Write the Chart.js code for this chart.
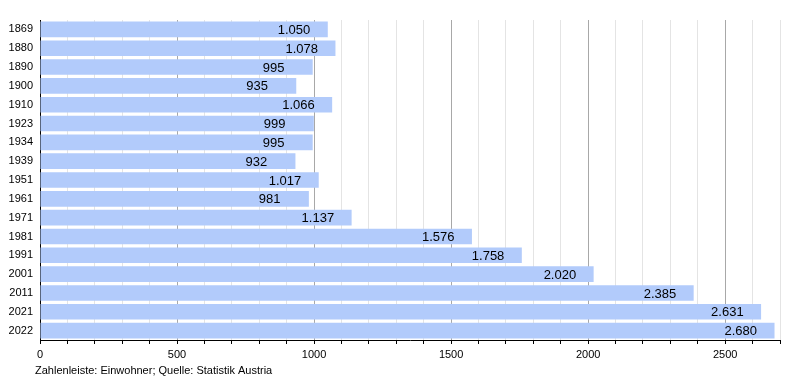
<!DOCTYPE html>
<html lang="de">
<head>
  <meta charset="UTF-8">
  <title>Einwohnerentwicklung</title>
  <script src="https://cdn.jsdelivr.net/npm/chart.js"></script>
  <style>
    html, body { margin: 0; padding: 0; background: #fff; }
    #wrap { width: 800px; height: 380px; }
  </style>
</head>
<body>
  <div id="wrap"><canvas id="grafik" width="800" height="380"></canvas></div>
  <script>
    const jahre = ['1869', '1880', '1890', '1900', '1910', '1923', '1934', '1939', '1951', '1961', '1971', '1981', '1991', '2001', '2011', '2021', '2022'];
    const einwohner = [1050, 1078, 995, 935, 1066, 999, 995, 932, 1017, 981, 1137, 1576, 1758, 2020, 2385, 2631, 2680];
    const xMax = 2700;
    const fussnote = 'Zahlenleiste: Einwohner; Quelle: Statistik Austria';

    const schrift = '"Liberation Sans", Arial, sans-serif';

    function formatDe(n) {
      return n.toLocaleString('de-DE');
    }

    // Werte am Balkenende + Fußnote
    const beschriftung = {
      id: 'beschriftung',
      afterDatasetsDraw(chart) {
        const ctx = chart.ctx;
        const meta = chart.getDatasetMeta(0);
        ctx.save();
        ctx.font = '13px ' + schrift;
        ctx.fillStyle = '#000';
        ctx.textAlign = 'left';
        ctx.textBaseline = 'middle';
        meta.data.forEach((bar, i) => {
          ctx.fillText(formatDe(einwohner[i]), bar.x - 50, bar.y + 1);
        });
        ctx.font = '11px ' + schrift;
        ctx.textBaseline = 'alphabetic';
        ctx.fillText(fussnote, 35, 374);
        ctx.restore();
      }
    };

    new Chart(document.getElementById('grafik'), {
      type: 'bar',
      data: {
        labels: jahre,
        datasets: [{
          data: einwohner,
          backgroundColor: '#b2cbfb',
          borderWidth: 0,
          barPercentage: 0.83,
          categoryPercentage: 1.0
        }]
      },
      options: {
        indexAxis: 'y',
        responsive: false,
        animation: false,
        layout: { padding: { top: 20, right: 20, bottom: 20, left: 0 } },
        plugins: {
          legend: { display: false },
          tooltip: { enabled: false }
        },
        scales: {
          x: {
            min: 0,
            max: xMax,
            border: { display: true, color: '#000', width: 1 },
            grid: {
              color: c => (c.tick && c.tick.value % 500 === 0) ? '#a8a8a8' : '#e4e4e4',
              tickColor: '#000',
              tickLength: 4,
              drawTicks: true
            },
            ticks: {
              stepSize: 100,
              autoSkip: false,
              maxRotation: 0,
              padding: 4,
              color: '#000',
              font: { size: 11, family: schrift },
              callback: v => (v % 500 === 0 && v <= 2500) ? String(v) : ''
            },
            afterFit: s => { s.height = 20; }
          },
          y: {
            border: { display: true, color: '#000', width: 1 },
            grid: { display: false, drawTicks: false },
            ticks: {
              padding: 7,
              color: '#000',
              font: { size: 11, family: schrift }
            },
            afterFit: s => { s.width = 40; }
          }
        }
      },
      plugins: [beschriftung]
    });
  </script>
</body>
</html>
